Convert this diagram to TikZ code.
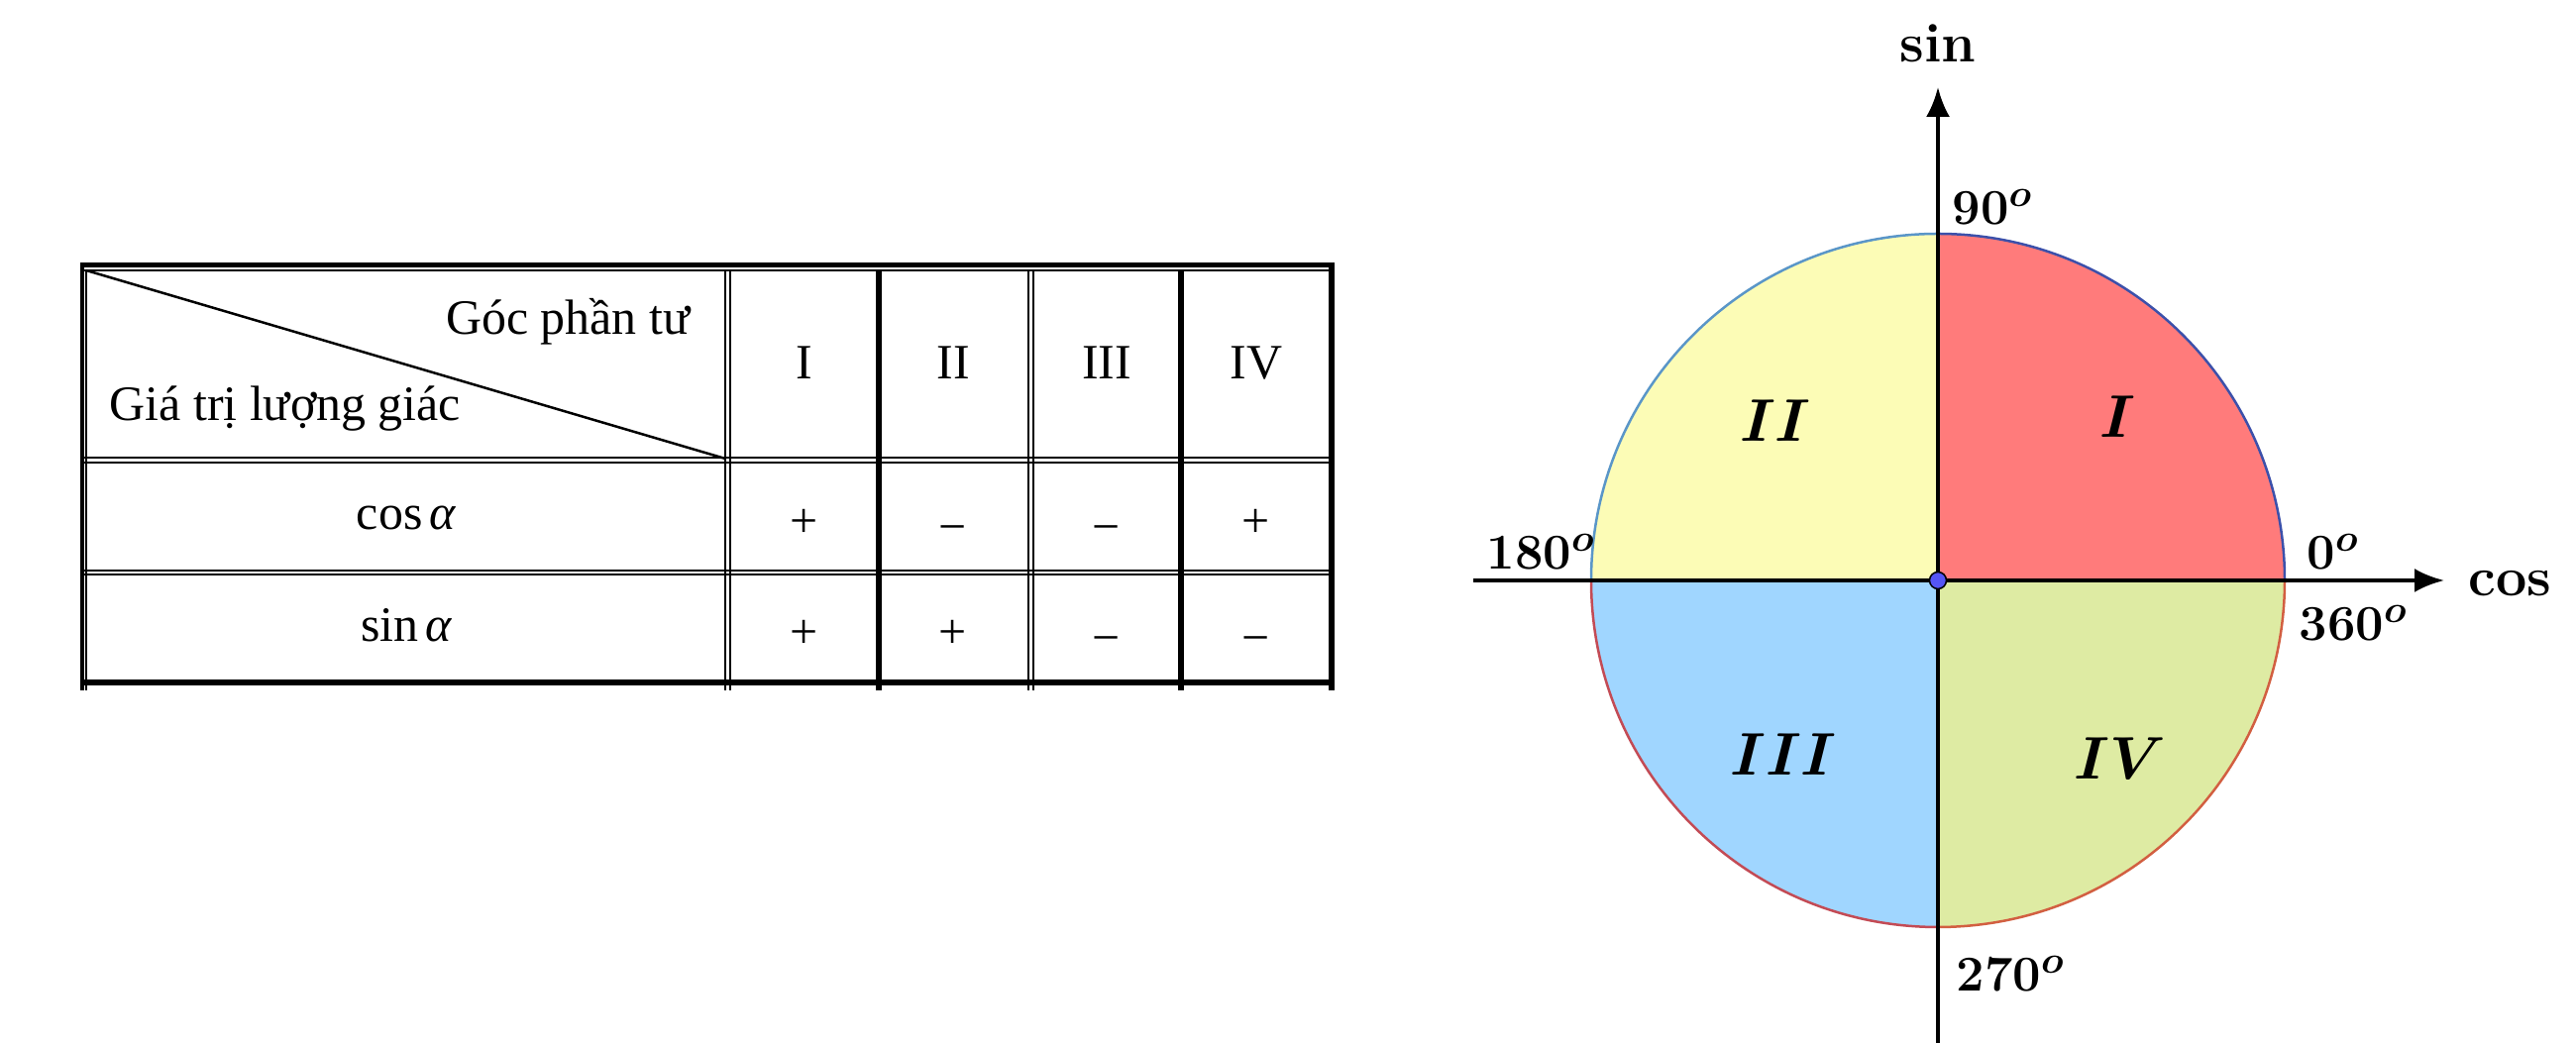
\documentclass[tikz,border=0pt]{standalone}
\usepackage{fontspec}
\newfontfamily\tablefont{Liberation Serif}
\usetikzlibrary{arrows.meta}
\definecolor{qone}{RGB}{255,123,123}
\definecolor{qtwo}{RGB}{252,252,182}
\definecolor{qthree}{RGB}{160,214,255}
\definecolor{qfour}{RGB}{222,235,163}
\definecolor{arcone}{RGB}{60,80,170}
\definecolor{arctwo}{RGB}{90,150,200}
\definecolor{arcthree}{RGB}{195,75,85}
\definecolor{arcfour}{RGB}{210,95,65}
\definecolor{dotblue}{RGB}{85,85,245}
\begin{document}
\begin{tikzpicture}[x=0.1mm,y=0.1mm,
  tabtext/.style={font=\tablefont\fontsize{14.2pt}{17pt}\selectfont, inner sep=0pt},
  lab/.style={font=\fontsize{15.8pt}{18pt}\selectfont\bfseries\boldmath, inner sep=0pt},
  qlab/.style={font=\fontsize{16.5pt}{19pt}\selectfont\bfseries\boldmath, inner sep=0pt},
  tline/.style={line width=0.25mm},
  tthick/.style={line width=0.5mm},
  axis/.style={line width=0.4mm, -{Latex[length=3mm,width=2.4mm]}},
  arcline/.style={line width=0.25mm}]
\useasboundingbox (0,0) rectangle (2600,1053);
% ---------- table ----------
\draw[tthick] (81,785) -- (1347,785);
\draw[tline] (85,780) -- (1347,780);
\draw[tline] (85,591) -- (1347,591);
\draw[tline] (85,586) -- (1347,586);
\draw[tline] (85,477) -- (1347,477);
\draw[tline] (85,473) -- (1347,473);
\draw[line width=0.6mm] (81,364) -- (1347,364);
\draw[line width=0.45mm] (83,787) -- (83,356);
\draw[tline] (87,780) -- (87,356);
\draw[tline] (732,780) -- (732,356);
\draw[tline] (737,780) -- (737,356);
\draw[line width=0.55mm] (887,780) -- (887,356);
\draw[tline] (1038,780) -- (1038,356);
\draw[tline] (1043,780) -- (1043,356);
\draw[line width=0.55mm] (1192,780) -- (1192,356);
\draw[line width=0.55mm] (1344,787) -- (1344,356);
\coordinate (dA) at (87,780);
\coordinate (dB) at (732,590);
\draw[tline] (dA) -- (dB);
\node[tabtext, anchor=base east] (goc) at (697,715) {Góc phần tư};
\node[tabtext, anchor=base west] (gia) at (110,628) {Giá trị lượng giác};
\node[tabtext, anchor=base] (hI) at (812,670) {I};
\node[tabtext, anchor=base] (hII) at (962,670) {II};
\node[tabtext, anchor=base] (hIII) at (1117,670) {III};
\node[tabtext, anchor=base] (hIV) at (1268,670) {IV};
\node[tabtext, anchor=base] (rcos) at (410,518) {cos\hspace{0.15em}{\itshape α}};
\node[tabtext, anchor=base] (rsin) at (410,405) {sin\hspace{0.15em}{\itshape α}};
\node[tabtext, anchor=base] (c1) at (812,510) {+};
\node[tabtext, anchor=base] (c2) at (962,504) {−};
\node[tabtext, anchor=base] (c3) at (1117,504) {−};
\node[tabtext, anchor=base] (c4) at (1268,510) {+};
\node[tabtext, anchor=base] (s1) at (812,398) {+};
\node[tabtext, anchor=base] (s2) at (962,398) {+};
\node[tabtext, anchor=base] (s3) at (1117,392) {−};
\node[tabtext, anchor=base] (s4) at (1268,392) {−};
% ---------- circle ----------
\coordinate (O) at (1956,467);
\fill[qone] (O) -- (2306,467) arc[start angle=0,end angle=90,radius=350] -- cycle;
\fill[qtwo] (O) -- (1956,817) arc[start angle=90,end angle=180,radius=350] -- cycle;
\fill[qthree] (O) -- (1606,467) arc[start angle=180,end angle=270,radius=350] -- cycle;
\fill[qfour] (O) -- (1956,117) arc[start angle=270,end angle=360,radius=350] -- cycle;
\draw[arcline, arcone] (2306,467) arc[start angle=0,end angle=90,radius=350];
\draw[arcline, arctwo] (1956,817) arc[start angle=90,end angle=180,radius=350];
\draw[arcline, arcthree] (1606,467) arc[start angle=180,end angle=270,radius=350];
\draw[arcline, arcfour] (1956,117) arc[start angle=270,end angle=360,radius=350];
\coordinate (xl) at (1487,467);
\coordinate (xr) at (2467,467);
\coordinate (yb) at (1956,0);
\coordinate (yt) at (1956,965);
\draw[axis] (xl) -- (xr);
\draw[axis] (yb) -- (yt);
\node[circle, fill=dotblue, draw=black, line width=0.15mm, minimum size=1.7mm, inner sep=0pt] (dot) at (O) {};
\node[lab, anchor=base] (sinlab) at (1956,990) {sin};
\node[lab, anchor=base west] (coslab) at (2491,451) {cos};
\node[lab, anchor=base west] (d0) at (2328,478) {$0^o$};
\node[lab, anchor=base west] (d360) at (2320,406) {$360^o$};
\node[lab, anchor=base west] (d180) at (1500,478) {$180^o$};
\node[lab, anchor=base west] (d90) at (1970,826) {$90^o$};
\node[lab, anchor=base west] (d270) at (1974,52) {$270^o$};
\node[qlab] (qI) at (2137,632) {$I$};
\node[qlab] (qII) at (1792,628) {$II$};
\node[qlab] (qIII) at (1800,291) {$III$};
\node[qlab] (qIV) at (2140,287) {$IV$};
\end{tikzpicture}
\end{document}
